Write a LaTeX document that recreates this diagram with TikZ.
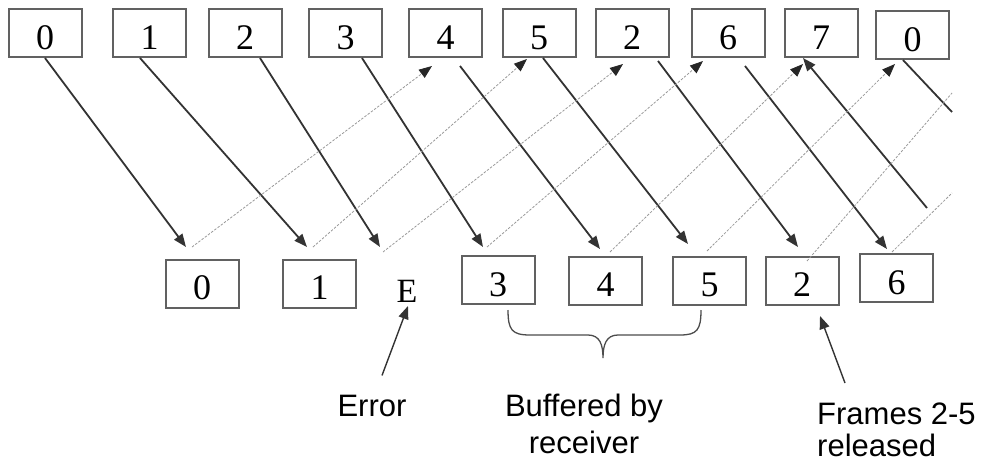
\documentclass[tikz,border=0pt]{standalone}
\usepackage{fontspec}
\setmainfont{Liberation Serif}
\newfontfamily\lblfont{Liberation Sans}
\usetikzlibrary{calc}
\usetikzlibrary{arrows.meta}
\tikzset{>={Triangle[length=13pt,width=10pt]}}
\tikzset{frm/.style={draw=black!62,line width=2pt,minimum width=73pt,inner sep=0pt,text height=40pt,text depth=8pt,font=\fontsize{36}{40}\selectfont}}
\tikzset{sent/.style={draw=black!80,line width=1.8pt,->}}
\tikzset{ack/.style={draw=black!40,line width=0.8pt,dash pattern=on 2.5pt off 1.5pt,-{Triangle[length=13pt,width=10pt,color=black!85]}}}
\tikzset{lbl/.style={inner sep=0pt,font=\lblfont\fontsize{31}{37}\selectfont}}
\tikzset{callout/.style={draw=black!80,line width=1.4pt,->}}

\begin{document}
\begin{tikzpicture}[x=1pt,y=-1pt]
			\useasboundingbox (0,0) rectangle (981,464);
			\node[frm] (s1) at (45,33) {0};
			\node[frm] (s2) at (149.5,33) {1};
			\node[frm] (s3) at (245,33) {2};
			\node[frm] (s4) at (345.5,33) {3};
			\node[frm] (s5) at (445.5,33) {4};
			\node[frm] (s6) at (539,33) {5};
			\node[frm] (s7) at (632,33) {2};
			\node[frm] (s8) at (728,33) {6};
			\node[frm] (s9) at (821,33) {7};
			\node[frm] (s10) at (912.5,35) {0};
			
			\node[frm] (r1) at (202,283.5) {0};
			\node[frm] (r2) at (319.5,283.5) {1};
			\node[frm,draw=none,font=\fontsize{34}{40}\selectfont] (r3) at (407,286) {E};
			\node[frm] (r4) at (498,280) {3};
			\node[frm] (r5) at (605.5,280.5) {4};
			\node[frm] (r6) at (709.5,280.5) {5};
			\node[frm] (r7) at (802,280.5) {2};
			\node[frm] (r8) at (896.5,278) {6};
			
			\coordinate (in9) at (927,208);
			\coordinate (in10) at (952,112);
			\coordinate (out7) at (952,93);
			\coordinate (out8) at (952,193);
			
			\draw[sent] (s1.south) -- ([xshift=-16pt,yshift=11.5pt]r1.north);
			\draw[sent] ([xshift=-9.5pt]s2.south) -- ([xshift=-12.5pt,yshift=11.5pt]r2.north);
			\draw[sent] ([xshift=15pt]s3.south) -- ([xshift=-27pt,yshift=14pt]r3.north);
			\draw[sent] ([xshift=16.5pt]s4.south) -- ([xshift=-15pt,yshift=8pt]r4.north);
			\draw[sent] ([xshift=14.5pt,yshift=-8pt]s5.south) -- ([xshift=-5.5pt,yshift=6.5pt]r5.north);
			\draw[sent] ([xshift=4pt]s6.south) -- ([xshift=-21.5pt,yshift=11.5pt]r6.north);
			\draw[sent] ([xshift=26pt,yshift=-3pt]s7.south) -- ([xshift=-4pt,yshift=8.5pt]r7.north);
			\draw[sent] ([xshift=17pt,yshift=-8pt]s8.south) -- ([xshift=-9.5pt,yshift=4pt]r8.north);
			\draw[sent] (in9) -- ([xshift=-18pt]s9.south);
			\draw[sent,-] (in10) -- ([xshift=-9.5pt]s10.south);
			
			\draw[ack] ([xshift=-10pt,yshift=11.5pt]r1.north) -- ([xshift=-13.5pt,yshift=-8pt]s5.south);
			\draw[ack] ([xshift=-6.5pt,yshift=11.5pt]r2.north) -- ([xshift=-12pt,yshift=-1pt]s6.south);
			\draw[ack] ([xshift=-24pt,yshift=9pt]r3.north) -- ([xshift=-9pt,yshift=-6pt]s7.south);
			\draw[ack] ([xshift=-11pt,yshift=8pt]r4.north) -- ([xshift=-25pt,yshift=-3pt]s8.south);
			\draw[ack] ([xshift=4.5pt,yshift=3.5pt]r5.north) -- ([xshift=-18pt,yshift=-6pt]s9.south);
			\draw[ack] ([xshift=-2.5pt,yshift=4.5pt]r6.north) -- ([xshift=-17.5pt,yshift=-4pt]s10.south);
			\draw[ack,-] ([xshift=5pt,yshift=-5.5pt]r7.north) -- (out7);
			\draw[ack,-] ([xshift=-4.5pt,yshift=1pt]r8.north) -- (out8);
			
			\draw[draw=black!70,line width=1.3pt] (508,310) .. controls (508,330) and (512,335) .. (530,335) -- (588,335) .. controls (600,335) and (603,345) .. (603,358) .. controls (603,345) and (606,335) .. (618,335) -- (680,335) .. controls (697,335) and (701,330) .. (701,310);
			
			\node[lbl,anchor=base] (err) at (372,416) {Error};
			\node[lbl,align=center,anchor=north] (buf) at (584,394) {Buffered by\\receiver};
			\node[lbl,align=left,anchor=north west,font=\lblfont\fontsize{31}{32}\selectfont] (rel) at (817,403) {Frames 2-5\\released};
			
			\draw[callout] ([xshift=10pt,yshift=19pt]err.north) -- ([xshift=1pt,yshift=5pt]r3.south);
			\draw[callout] ([xshift=28pt,yshift=20pt]rel.north west) -- ([xshift=18pt,yshift=-10.5pt]r7.south);
		\end{tikzpicture}
\end{document}
